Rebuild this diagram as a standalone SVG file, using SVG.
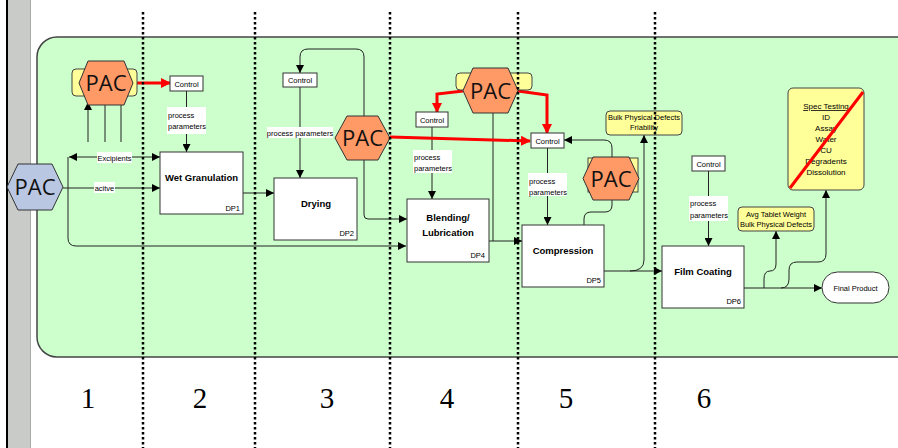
<svg xmlns="http://www.w3.org/2000/svg" width="898" height="448" viewBox="0 0 898 448">
<defs>
<style>
.t{font-family:'Liberation Sans',Arial,sans-serif;fill:#000}
.s{font-size:7.5px}
.c{text-anchor:middle}
.e{text-anchor:end}
.b{font-weight:bold;font-size:9.5px}
.sp{font-size:8px}
.box{fill:#fff;stroke:#333;stroke-width:1}
.yel{fill:#ffff99;stroke:#444;stroke-width:1}
.wbg{fill:#fff}
.pac{font-family:'Open Sans','Lato',sans-serif;font-size:22px;fill:#111;text-anchor:middle}
.org{fill:#ff9966;stroke:#333;stroke-width:1}
.blu{fill:#b9c7e3;stroke:#333;stroke-width:1}
.ln{fill:none;stroke:#222;stroke-width:1}
.red{fill:none;stroke:#ff0000;stroke-width:3}
.dot{fill:none;stroke:#000;stroke-width:2.5;stroke-dasharray:2.5 2.5}
.num{font-family:'Liberation Serif','Times New Roman',serif;font-size:29px;text-anchor:middle;fill:#000}
</style>
<marker id="ar" markerUnits="userSpaceOnUse" markerWidth="8" markerHeight="8" refX="8" refY="4" orient="auto"><path d="M0,0 L8,4 L0,8 z" fill="#000"/></marker>
<marker id="as" markerUnits="userSpaceOnUse" markerWidth="8" markerHeight="8" refX="8" refY="4" orient="auto-start-reverse"><path d="M0,0 L8,4 L0,8 z" fill="#000"/></marker>
<marker id="rr" markerUnits="userSpaceOnUse" markerWidth="10" markerHeight="10" refX="9" refY="5" orient="auto"><path d="M0,0 L10,5 L0,10 z" fill="#ff0000"/></marker>
</defs>
<rect x="0" y="0" width="898" height="448" fill="#fff"/>
<rect x="8" y="0" width="22" height="448" fill="#c8cbc8"/>
<rect x="6" y="0" width="2" height="448" fill="#000"/>
<rect x="30" y="0" width="1" height="448" fill="#a8aca8"/>
<rect id="panel" x="37" y="37" width="880" height="320" rx="20" fill="#ccffcc" stroke="#444" stroke-width="1.5"/>

<g id="connectors">
<path class="ln" d="M88,142 V102" marker-end="url(#ar)"/>
<path class="ln" d="M105,104 V142"/>
<path class="ln" d="M121,104 V142"/>
<path class="ln" d="M69,157 H160" marker-start="url(#as)" marker-end="url(#ar)"/>
<path class="ln" d="M68,157 V238 Q68,246 76,246 H406" marker-end="url(#ar)"/>
<path class="ln" d="M63,188 H160" marker-end="url(#ar)"/>
<path class="ln" d="M186.5,91 V152" marker-end="url(#ar)"/>
<path class="ln" d="M243,193 H274" marker-end="url(#ar)"/>
<path class="ln" d="M364,116 V57 Q364,49 356,49 H308 Q300,49 300,57 V73" marker-end="url(#ar)"/>
<path class="ln" d="M300,87 V178" marker-end="url(#ar)"/>
<path class="ln" d="M364,160 V215 Q364,219 368,219 H407" marker-end="url(#ar)"/>
<path class="ln" d="M432,127 V199" marker-end="url(#ar)"/>
<path class="ln" d="M493,113 V241"/>
<path class="ln" d="M489,241 H522" marker-end="url(#ar)"/>
<path class="ln" d="M547.5,148 V225" marker-end="url(#ar)"/>
<path class="ln" d="M584,225 V219 Q584,212 591,212 H605 Q612,212 612,205 V200"/>
<path class="ln" d="M612,157 V148 Q612,140 604,140 H564" marker-end="url(#ar)"/>
<path class="ln" d="M604,271 H662" marker-end="url(#ar)"/>
<path class="ln" d="M630,271 Q644,271 644,260 V135" marker-end="url(#ar)"/>
<path class="ln" d="M708.5,171 V246" marker-end="url(#ar)"/>
<path class="ln" d="M744,288 H822" marker-end="url(#ar)"/>
<path class="ln" d="M764,288 V279 Q764,271 770,271 Q776,271 776,264 V231" marker-end="url(#ar)"/>
<path class="ln" d="M781,288 Q789,288 789,279 V270 Q789,262 797,262 H818 Q826,262 826,254 V190" marker-end="url(#ar)"/>
<path class="red" d="M133,83 H170" marker-end="url(#rr)"/>
<path class="red" d="M390,137 L530,141" marker-end="url(#rr)"/>
<path class="red" d="M463,91 L437,94 V112" marker-end="url(#rr)"/>
<path class="red" d="M518,91 L547,95 V133" marker-end="url(#rr)"/>
</g>

<g id="pac-left">
<polygon class="blu" points="7,187 18,164 52,164 63,187 52,210 18,210"/>
<text class="pac" x="35" y="195">PAC</text>
</g>
<g id="pac-1">
<rect class="yel" x="72" y="69" width="65" height="27" rx="4"/>
<polygon class="org" points="79,83 88,61 124,61 133,83 124,105 88,105"/>
<text class="pac" x="106" y="91">PAC</text>
</g>
<g id="control-1">
<rect class="box" x="170" y="76" width="33" height="15"/>
<text class="t s c" x="186.5" y="86.5">Control</text>
</g>
<g id="pp-1">
<rect class="wbg" x="167" y="107" width="39" height="27"/>
<text class="t s" x="168" y="118">process</text>
<text class="t s" x="168" y="129">parameters</text>
</g>
<g id="lbl-excipients">
<rect class="wbg" x="97" y="152" width="35" height="11"/>
<text class="t s c" x="114.5" y="160.5">Excipients</text>
</g>
<g id="lbl-active">
<rect class="wbg" x="94" y="182" width="21" height="11"/>
<text class="t s c" x="104.5" y="190.5">acitve</text>
</g>
<g id="dp1">
<rect class="box" x="160" y="152" width="83" height="62"/>
<text class="t b c" x="201.5" y="181">Wet Granulation</text>
<text class="t s e" x="240" y="211">DP1</text>
</g>
<g id="control-2">
<rect class="box" x="283" y="73" width="34" height="14"/>
<text class="t s c" x="300" y="83">Control</text>
</g>
<g id="pp-2">
<rect class="wbg" x="267" y="127" width="66" height="11"/>
<text class="t s c" x="300" y="135.5">process parameters</text>
</g>
<g id="dp2">
<rect class="box" x="274" y="178" width="83" height="62"/>
<text class="t b c" x="316" y="207">Drying</text>
<text class="t s e" x="354" y="236">DP2</text>
</g>
<g id="pac-2">
<polygon class="org" points="335,138 347,116 378,116 390,138 378,160 347,160"/>
<text class="pac" x="362.5" y="146">PAC</text>
</g>
<g id="pac-3">
<rect class="yel" x="456" y="73" width="76" height="17" rx="4"/>
<polygon class="org" points="463,90.5 473,68 508,68 518,90.5 508,113 473,113"/>
<text class="pac" x="490.5" y="98.5">PAC</text>
</g>
<g id="control-4">
<rect class="box" x="416" y="112" width="32" height="15"/>
<text class="t s c" x="432" y="122.5">Control</text>
</g>
<g id="pp-4">
<rect class="wbg" x="413" y="150" width="39" height="23"/>
<text class="t s" x="414" y="160">process</text>
<text class="t s" x="414" y="171">parameters</text>
</g>
<g id="dp4">
<rect class="box" x="407" y="199" width="82" height="63"/>
<text class="t b c" x="448" y="221">Blending/</text>
<text class="t b c" x="448" y="236">Lubrication</text>
<text class="t s e" x="485" y="258">DP4</text>
</g>
<g id="control-5">
<rect class="box" x="531" y="133" width="33" height="15"/>
<text class="t s c" x="547.5" y="144">Control</text>
</g>
<g id="pp-5">
<rect class="wbg" x="528" y="173" width="39" height="23"/>
<text class="t s" x="529" y="184">process</text>
<text class="t s" x="529" y="195">parameters</text>
</g>
<g id="dp5">
<rect class="box" x="522" y="225" width="82" height="62"/>
<text class="t b c" x="563" y="254">Compression</text>
<text class="t s e" x="601" y="283">DP5</text>
</g>
<g id="pac-5">
<rect class="yel" x="588" y="158" width="50" height="34"/>
<polygon class="org" points="583,178.5 593,157 629,157 639,178.5 629,200 593,200"/>
<text class="pac" x="611" y="186.5">PAC</text>
</g>
<g id="bpd-friability">
<rect class="yel" x="606" y="111" width="76" height="24" rx="4"/>
<text class="t s c" x="644" y="119.5">Bulk Physical Defects</text>
<text class="t s c" x="644" y="130">Friability</text>
</g>
<g id="control-6">
<rect class="box" x="692" y="156" width="33" height="15"/>
<text class="t s c" x="708.5" y="167">Control</text>
</g>
<g id="pp-6">
<rect class="wbg" x="689" y="196" width="39" height="25"/>
<text class="t s" x="690" y="206">process</text>
<text class="t s" x="690" y="218">parameters</text>
</g>
<g id="dp6">
<rect class="box" x="662" y="246" width="82" height="62"/>
<text class="t b c" x="703" y="275">Film Coating</text>
<text class="t s e" x="741" y="304">DP6</text>
</g>
<g id="avg-weight">
<rect class="yel" x="738" y="207" width="76" height="24" rx="4"/>
<text class="t s c" x="776" y="216.5">Avg Tablet Weight</text>
<text class="t s c" x="776" y="227">Bulk Physical Defects</text>
</g>
<g id="spec-testing">
<rect class="yel" x="788" y="88" width="76" height="102" rx="5"/>
<text class="t sp c" x="826" y="109" text-decoration="underline">Spec Testing</text>
<text class="t sp c" x="826" y="120">ID</text>
<text class="t sp c" x="826" y="131">Assay</text>
<text class="t sp c" x="826" y="142">Water</text>
<text class="t sp c" x="826" y="153">CU</text>
<text class="t sp c" x="826" y="164">Degradents</text>
<text class="t sp c" x="826" y="175">Dissolution</text>
<path d="M790,188 L863,92" stroke="#ff0000" stroke-width="3" fill="none"/>
</g>
<g id="final-product">
<rect class="box" x="822" y="272" width="67" height="31" rx="15.5"/>
<text class="t s c" x="855.5" y="291">Final Product</text>
</g>

<g id="dividers">
<path class="dot" d="M143,12 V448"/>
<path class="dot" d="M255,12 V448"/>
<path class="dot" d="M390,12 V448"/>
<path class="dot" d="M518,12 V448"/>
<path class="dot" d="M655,12 V448"/>
</g>
<g id="numbers">
<text class="num" x="88" y="408">1</text>
<text class="num" x="200" y="408">2</text>
<text class="num" x="327" y="408">3</text>
<text class="num" x="447" y="408">4</text>
<text class="num" x="566" y="408">5</text>
<text class="num" x="704" y="408">6</text>
</g>
</svg>
